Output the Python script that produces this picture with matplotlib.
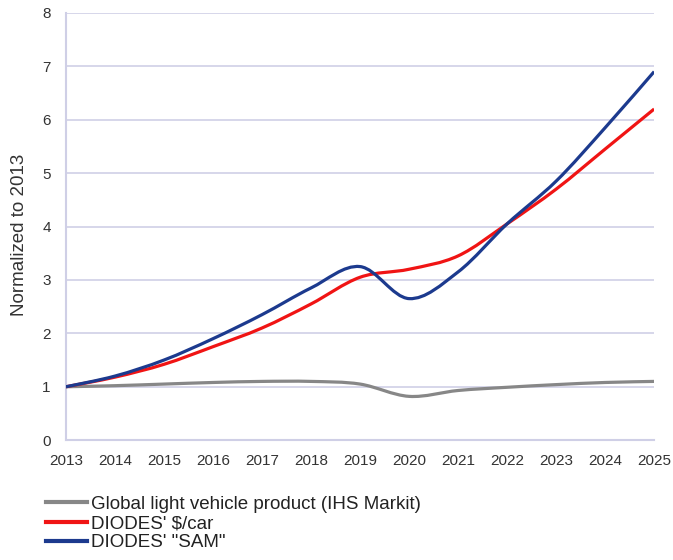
import numpy as np
import matplotlib.pyplot as plt
from matplotlib.path import Path
from matplotlib.patches import PathPatch
from matplotlib.lines import Line2D

plt.rcParams['font.family'] = ['Liberation Sans', 'DejaVu Sans']

years = [2013, 2014, 2015, 2016, 2017, 2018, 2019, 2020, 2021, 2022, 2023, 2024, 2025]
vehicles = [1.0, 1.02, 1.05, 1.08, 1.10, 1.10, 1.05, 0.82, 0.93, 0.99, 1.04, 1.08, 1.10]
dollar_per_car = [1.0, 1.18, 1.42, 1.75, 2.1, 2.55, 3.05, 3.2, 3.45, 4.05, 4.7, 5.45, 6.2]
sam = [1.0, 1.2, 1.5, 1.9, 2.35, 2.85, 3.25, 2.65, 3.15, 4.05, 4.85, 5.85, 6.9]

labels = ['Global light vehicle product (IHS Markit)', "DIODES' $/car", 'DIODES\' "SAM"']
colors = ['#878787', '#f01414', '#1c3a8e']


def smooth_path(x, y):
    # excel-like smoothed line: bezier segments through the points
    p = np.column_stack([x, y]).astype(float)
    ext = np.vstack([p[0], p, p[-1]])
    verts = [p[0]]
    codes = [Path.MOVETO]
    for i in range(len(p) - 1):
        p0, p1, p2, p3 = ext[i], ext[i + 1], ext[i + 2], ext[i + 3]
        verts += [p1 + (p2 - p0) / 6, p2 - (p3 - p1) / 6, p2]
        codes += [Path.CURVE4] * 3
    return Path(verts, codes)


fig = plt.figure(figsize=(6.73, 5.6), dpi=100)
ax = fig.add_axes([0.098, 0.214, 0.874, 0.763])

grid_c = '#cfcfe6'
for v in range(1, 9):
    ax.axhline(v, color=grid_c, lw=1.2, zorder=1)

for ys, c in zip([vehicles, dollar_per_car, sam], colors):
    ax.add_patch(PathPatch(smooth_path(years, ys), fill=False, edgecolor=c, lw=2.3,
                           capstyle='butt', zorder=3))

ax.set_xlim(2013, 2025)
ax.set_ylim(0, 8)
ax.set_xticks(years)
ax.set_yticks(range(0, 9))
ax.tick_params(length=0, labelsize=11, colors='#333333')
ax.tick_params(axis='x', pad=10)
ax.tick_params(axis='y', pad=11)
for s in ['top', 'right']:
    ax.spines[s].set_visible(False)
for s in ['left', 'bottom']:
    ax.spines[s].set_color(grid_c)
    ax.spines[s].set_linewidth(1.5)
ax.set_ylabel('Normalized to 2013', fontsize=13.5, color='#333333')
ax.yaxis.set_label_coords(-0.064, 0.48)

handles = [Line2D([], [], color=c, lw=3) for c in colors]
fig.legend(handles, labels, loc='upper left', bbox_to_anchor=(0.068, 0.115),
           frameon=False, fontsize=13.5, handlelength=2.2, handletextpad=0.2,
           labelspacing=0.12, borderaxespad=0, borderpad=0, labelcolor='#222222')

plt.savefig('out.png', dpi=100)
